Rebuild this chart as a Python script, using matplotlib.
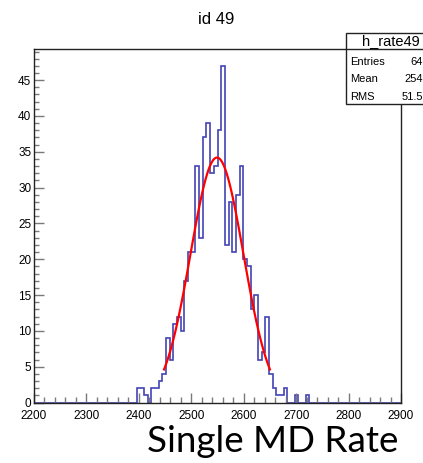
import numpy as np
import matplotlib
matplotlib.use("Agg")
import matplotlib.pyplot as plt
from matplotlib.patches import Rectangle
from matplotlib.lines import Line2D
from matplotlib.ticker import MultipleLocator

plt.rcParams["font.family"] = ["Liberation Sans", "DejaVu Sans"]

# h_rate49: 100 bins over 2200..2900, filled bins start at index 28
X_MIN, X_MAX, N_BINS = 2200, 2900, 100
FIRST_BIN = 28
BIN_COUNTS = [2, 2, 1, 0, 2, 2, 3, 4, 9, 6, 11, 12, 10, 17, 21, 21,
              33, 23, 37, 39, 32, 33, 38, 47, 22, 28, 21, 29, 33, 20,
              19, 13, 15, 6, 7, 12, 4, 2, 1, 1, 2, 0, 0, 1, 0, 0, 1]

# gaussian fit (red curve)
FIT_CONST, FIT_MEAN, FIT_SIGMA = 34.2, 2549.0, 50.5
FIT_RANGE = (2448, 2650)

TITLE = "id 49"
STATS_NAME = "h_rate49"
STATS_ROWS = [("Entries", "64"), ("Mean", "254"), ("RMS", "51.5")]
CAPTION = "Single MD Rate"

W, H = 423, 463
fig = plt.figure(figsize=(W / 100, H / 100), dpi=100)
fig.patch.set_facecolor("white")


def fx(px):
    return px / W


def fy(py):
    return 1 - py / H


ax = fig.add_axes([fx(34), fy(402.6), fx(401) - fx(34), fy(49) - fy(402.6)])

edges = np.linspace(X_MIN, X_MAX, N_BINS + 1)
counts = np.zeros(N_BINS)
counts[FIRST_BIN:FIRST_BIN + len(BIN_COUNTS)] = BIN_COUNTS
ax.stairs(counts, edges, color="#4343b5", lw=1.2, baseline=0)

xf = np.linspace(FIT_RANGE[0], FIT_RANGE[1], 100)
yf = FIT_CONST * np.exp(-0.5 * ((xf - FIT_MEAN) / FIT_SIGMA) ** 2)
ax.plot(xf, yf, color="#ff0000", lw=1.6)

ax.set_xlim(X_MIN, X_MAX)
ax.set_ylim(0, counts.max() * 1.05)

ax.xaxis.set_major_locator(MultipleLocator(100))
ax.xaxis.set_minor_locator(MultipleLocator(20))
ax.yaxis.set_major_locator(MultipleLocator(5))
ax.yaxis.set_minor_locator(MultipleLocator(1))
ax.tick_params(axis="both", which="both", direction="in", color="#7a7a7a", width=1.0,
               top=False, right=False, labelsize=8.5)
ax.tick_params(axis="x", which="major", length=7, pad=5)
ax.tick_params(axis="x", which="minor", length=4)
ax.tick_params(axis="y", which="major", length=7.5, pad=2)
ax.tick_params(axis="y", which="minor", length=3.8)
for s in ax.spines.values():
    s.set_color("#222222")
    s.set_linewidth(1.0)
# ROOT puts the y "0" a little higher than the x labels
ax.get_yticklabels()[0].set_verticalalignment("bottom")

fig.text(fx(216), fy(19), TITLE, ha="center", va="center", fontsize=12)

# stats box, cut off at the right edge like the original
box = Rectangle((fx(346), fy(104)), 0.3, fy(33) - fy(104), transform=fig.transFigure,
                facecolor="white", edgecolor="#222222", lw=1.0, zorder=5)
fig.patches.append(box)
fig.lines.append(Line2D([fx(346), 1.0], [fy(49), fy(49)], transform=fig.transFigure,
                        color="#222222", lw=1.0, zorder=6))
fig.text(fx(362), fy(41.5), STATS_NAME, ha="left", va="center", fontsize=10.5, zorder=7)
for i, (lab, val) in enumerate(STATS_ROWS):
    yy = fy(62 + i * 17.3)
    fig.text(fx(350), yy, lab, ha="left", va="center", fontsize=8, zorder=7)
    fig.text(1.0, yy, val, ha="right", va="center", fontsize=8, zorder=7)

fig.text(fx(398), fy(452), CAPTION, ha="right", va="baseline", fontsize=26.5,
         family=["Lato", "DejaVu Sans"])

fig.savefig("out.png", dpi=100)
